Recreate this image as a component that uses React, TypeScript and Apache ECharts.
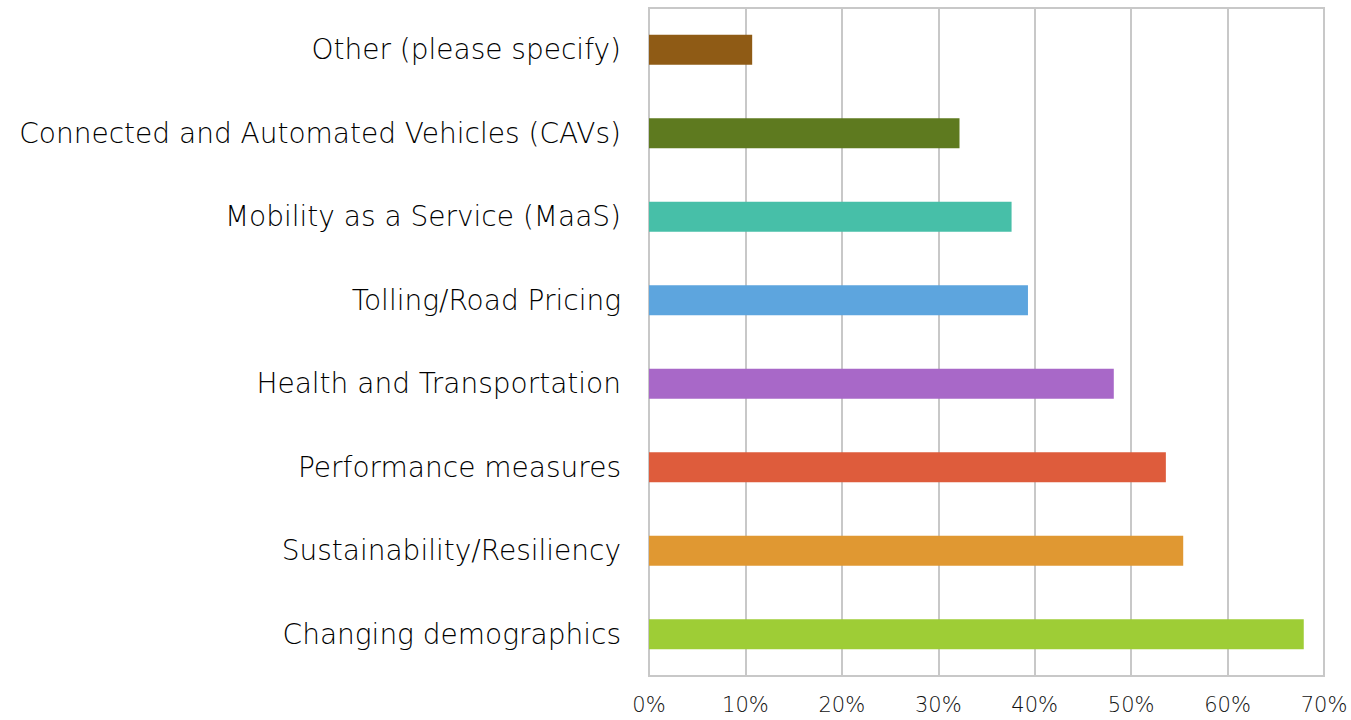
import React, { useEffect, useRef } from "react";
import * as echarts from "echarts";

const categories = [
  "Changing demographics",
  "Sustainability/Resiliency",
  "Performance measures",
  "Health and Transportation",
  "Tolling/Road Pricing",
  "Mobility as a Service (MaaS)",
  "Connected and Automated Vehicles (CAVs)",
  "Other (please specify)",
];
const values = [67.9, 55.4, 53.6, 48.2, 39.3, 37.6, 32.2, 10.7];
const colors = ["#9ecd36", "#e09832", "#de5c3c", "#a868c8", "#5da5de", "#47bfa8", "#5e7a1f", "#8f5b15"];
const xTicks = [0, 10, 20, 30, 40, 50, 60, 70];

export default function App() {
  const ref = useRef<HTMLDivElement>(null);
  useEffect(() => {
    document.body.style.margin = "0";
    const chart = echarts.init(ref.current!, null, { renderer: "svg" });
    chart.setOption({
      animation: false,
      grid: { left: 649, right: 27, top: 8, bottom: 44, show: true, borderColor: "#c8c8c8", borderWidth: 2 },
      xAxis: {
        type: "value",
        min: xTicks[0],
        max: xTicks[xTicks.length - 1],
        interval: 10,
        axisLine: { show: false },
        axisTick: { show: false },
        splitLine: { lineStyle: { color: "#c8c8c8", width: 2 } },
        axisLabel: { formatter: "{value}%", fontFamily: "DejaVu Sans", fontWeight: 300, fontSize: 21, color: "#111", margin: 18 },
      },
      yAxis: {
        type: "category",
        data: categories,
        axisLine: { show: false },
        axisTick: { show: false },
        axisLabel: { fontFamily: "DejaVu Sans", fontWeight: 300, fontSize: 28, color: "#000", margin: 28 },
      },
      series: [
        {
          type: "bar",
          barWidth: 30,
          data: values.map((v, i) => ({ value: v, itemStyle: { color: colors[i] } })),
        },
      ],
    });
    return () => chart.dispose();
  }, []);
  return <div ref={ref} style={{ width: 1351, height: 720 }} />;
}
